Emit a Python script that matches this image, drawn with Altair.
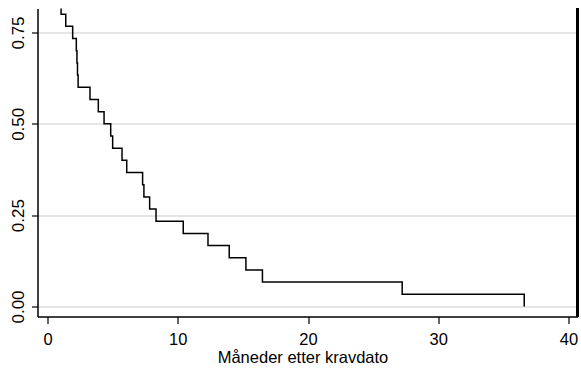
import altair as alt
import pandas as pd

# Kaplan-Meier style survival estimate
months = [0, 1.04, 1.40, 1.93, 2.21, 2.26, 2.30, 2.35, 3.26, 3.90, 4.34, 4.85, 5.00,
          5.72, 6.08, 7.30, 7.40, 7.84, 8.33, 10.42, 12.32, 13.95, 15.23, 16.50,
          27.23, 36.60]
survival = [1.0, 0.8, 0.7667, 0.7333, 0.7, 0.6667, 0.6333, 0.6, 0.5667, 0.5333, 0.5,
            0.4667, 0.4333, 0.4, 0.3667, 0.3333, 0.3, 0.2667, 0.2333, 0.2, 0.1667,
            0.1333, 0.1, 0.0667, 0.0333, 0.0]
x_ticks = [0, 10, 20, 30, 40]
y_ticks = [0, 0.25, 0.5, 0.75]

df = pd.DataFrame({"t": months, "s": survival})

FONT = "Liberation Sans"
W, H = 540, 308

x_scale = alt.Scale(domain=[-0.77, 40.69], nice=False, zero=False)
y_scale = alt.Scale(domain=[-0.0274, 0.8156], nice=False, zero=False)

line = alt.Chart(df).mark_line(
    interpolate="step-after", color="black", strokeWidth=1.5, clip=True
).encode(
    x=alt.X("t:Q", scale=x_scale,
            axis=alt.Axis(values=x_ticks, title="Måneder etter kravdato",
                          grid=False, domainColor="black", domainWidth=1.5,
                          tickColor="black", tickSize=7, tickWidth=1.2,
                          labelFontSize=16.5, labelColor="black", labelFont=FONT,
                          labelPadding=8, titleFont=FONT, titleFontSize=16.5,
                          titleFontWeight="normal", titleColor="black",
                          titleX=265, titlePadding=1)),
    y=alt.Y("s:Q", scale=y_scale,
            axis=alt.Axis(values=y_ticks, format=".2f", title=None,
                          grid=True, gridColor="#dcdcdc", gridWidth=1.5,
                          domainColor="black", domainWidth=1.5,
                          tickColor="black", tickSize=6, tickWidth=1.2,
                          labelAngle=270, labelAlign="center",
                          labelBaseline="bottom",
                          labelFontSize=17, labelColor="black", labelFont=FONT,
                          labelPadding=4)),
)

frame = alt.Chart(df).mark_rule(color="black", strokeWidth=1.5).encode(
    x=alt.value(W), y=alt.value(0), y2=alt.value(H)
)

chart = alt.layer(line, frame).properties(
    width=W, height=H,
    autosize=alt.AutoSizeParams(type="none"),
    padding={"left": 37.5, "top": 8.5, "right": 3.5, "bottom": 55.5},
    background="white",
).configure_view(stroke=None)

chart.save("out.html", embed_options={"renderer": "svg", "actions": False})
